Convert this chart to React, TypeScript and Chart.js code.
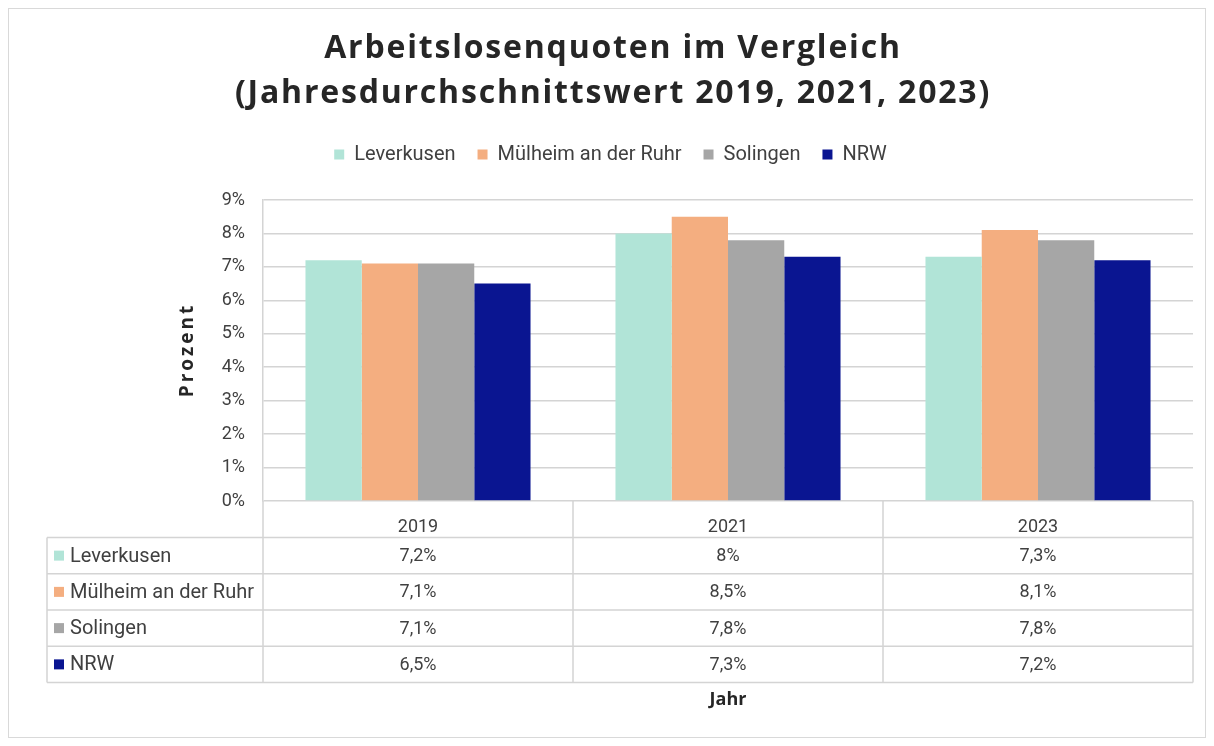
import React, { useEffect, useRef } from 'react';
import { Chart, registerables } from 'chart.js';

Chart.register(...registerables);

const TITLE_LINES = ['Arbeitslosenquoten im Vergleich', '(Jahresdurchschnittswert 2019, 2021, 2023)'];
const X_TITLE = 'Jahr';
const Y_TITLE = 'Prozent';
const YEARS = ['2019', '2021', '2023'];
const SERIES_NAMES = ['Leverkusen', 'Mülheim an der Ruhr', 'Solingen', 'NRW'];
const LEVERKUSEN = [7.2, 8.0, 7.3];
const MUELHEIM = [7.1, 8.5, 8.1];
const SOLINGEN = [7.1, 7.8, 7.8];
const NRW = [6.5, 7.3, 7.2];
const SERIES_VALUES = [LEVERKUSEN, MUELHEIM, SOLINGEN, NRW];
const COLORS = ['#b1e4d7', '#f4ae80', '#a6a6a6', '#0a1591'];
const Y_MIN = 0;
const Y_MAX = 9;
const Y_STEP = 1;

const FONT = "Roboto, 'Open Sans', sans-serif";
const TITLE_FONT = "'Open Sans', sans-serif";
const TEXT_COLOR = '#404040';
const LINE_COLOR = '#d4d4d4';

const fmt = (v: number) => String(v).replace('.', ',') + '%';

const extrasPlugin = {
  id: 'extras',
  afterDraw(chart: any) {
    const { ctx, chartArea, scales } = chart;
    const x = scales.x;
    ctx.save();
    // outer frame
    ctx.strokeStyle = '#d9d9d9';
    ctx.lineWidth = 1;
    ctx.strokeRect(0.5, 0.5, chart.width - 1, chart.height - 1);

    // main title
    ctx.fillStyle = '#262626';
    ctx.font = `700 32px ${TITLE_FONT}`;
    (ctx as any).letterSpacing = '1.8px';
    ctx.textAlign = 'center';
    ctx.textBaseline = 'middle';
    TITLE_LINES.forEach((t, i) => ctx.fillText(t, 605, 41 + i * 45));

    // y title
    ctx.save();
    ctx.translate(180, 342);
    ctx.rotate(-Math.PI / 2);
    ctx.font = `700 19px ${TITLE_FONT}`;
    (ctx as any).letterSpacing = '3px';
    ctx.fillStyle = '#262626';
    ctx.fillText(Y_TITLE, 0, 0);
    ctx.restore();
    (ctx as any).letterSpacing = '0px';

    // data table
    const top = chartArea.bottom;
    const headerBottom = top + 36.5;
    const rowH = 36.25;
    const tableBottom = headerBottom + rowH * SERIES_NAMES.length;
    const labelLeft = 39;
    const left = chartArea.left;
    const right = chartArea.right;
    const catW = (right - left) / YEARS.length;

    ctx.strokeStyle = LINE_COLOR;
    ctx.lineWidth = 1.5;
    ctx.beginPath();
    for (let r = 0; r <= SERIES_NAMES.length; r++) {
      const y = headerBottom + r * rowH;
      ctx.moveTo(labelLeft, y);
      ctx.lineTo(right, y);
    }
    for (let c = 0; c < YEARS.length; c++) {
      const xv = x.getPixelForValue(c) - catW / 2;
      ctx.moveTo(xv, top);
      ctx.lineTo(xv, tableBottom);
    }
    ctx.moveTo(right, top);
    ctx.lineTo(right, tableBottom);
    ctx.moveTo(labelLeft, headerBottom);
    ctx.lineTo(labelLeft, tableBottom);
    ctx.stroke();

    ctx.textBaseline = 'middle';
    SERIES_NAMES.forEach((name, r) => {
      const cy = headerBottom + r * rowH + rowH / 2;
      ctx.fillStyle = COLORS[r];
      ctx.fillRect(46, cy - 5, 10, 10);
      ctx.fillStyle = TEXT_COLOR;
      ctx.textAlign = 'left';
      ctx.font = `400 20px ${FONT}`;
      ctx.fillText(name, 62, cy + 1);
      ctx.textAlign = 'center';
      ctx.font = `400 18px ${FONT}`;
      SERIES_VALUES[r].forEach((v, c) => {
        ctx.fillText(fmt(v), x.getPixelForValue(c), cy + 1);
      });
    });
    ctx.restore();
  },
};

export default function App() {
  const ref = useRef<HTMLCanvasElement>(null);
  useEffect(() => {
    if (!ref.current) return;
    const chart = new Chart(ref.current, {
      type: 'bar',
      data: {
        labels: YEARS,
        datasets: SERIES_NAMES.map((name, i) => ({
          label: name,
          data: SERIES_VALUES[i],
          backgroundColor: COLORS[i],
          borderWidth: 0,
          categoryPercentage: 0.726,
          barPercentage: 1.0,
        })),
      },
      options: {
        animation: false,
        responsive: false,
        layout: { padding: { top: 114.5, right: 13, bottom: 0, left: 20 } },
        plugins: {
          tooltip: { enabled: false },
          title: { display: false },
          subtitle: {
            display: true,
            text: '',
            weight: 500,
            position: 'top',
            font: { size: 10 },
            padding: { top: 13.5, bottom: 0 },
          } as any,
          legend: {
            display: true,
            position: 'top',
            labels: {
              boxWidth: 10,
              boxHeight: 10,
              padding: 22,
              color: TEXT_COLOR,
              font: { family: FONT, size: 20 },
            },
          },
        },
        scales: {
          x: {
            grid: { display: false },
            border: { display: false },
            ticks: { color: TEXT_COLOR, font: { family: FONT, size: 18 }, padding: 8 },
            title: {
              display: true,
              text: X_TITLE,
              color: '#262626',
              font: { family: TITLE_FONT, size: 18, weight: 'bold' },
              padding: { top: 0, bottom: 27 },
            },
            afterFit: (s: any) => { s.height = 237; },
          },
          y: {
            min: Y_MIN,
            max: Y_MAX,
            ticks: {
              stepSize: Y_STEP,
              color: TEXT_COLOR,
              font: { family: FONT, size: 18 },
              padding: 18,
              callback: (v: any) => v + '%',
            },
            grid: { color: LINE_COLOR, lineWidth: 1.5, drawTicks: false },
            border: { display: true, color: LINE_COLOR, width: 1.5 },
            title: { display: false },
            afterFit: (s: any) => { s.width = 235; },
          },
        },
      },
      plugins: [extrasPlugin],
    });
    return () => chart.destroy();
  }, []);
  return <canvas ref={ref} width={1198} height={730} style={{ display: 'block' }} />;
}
